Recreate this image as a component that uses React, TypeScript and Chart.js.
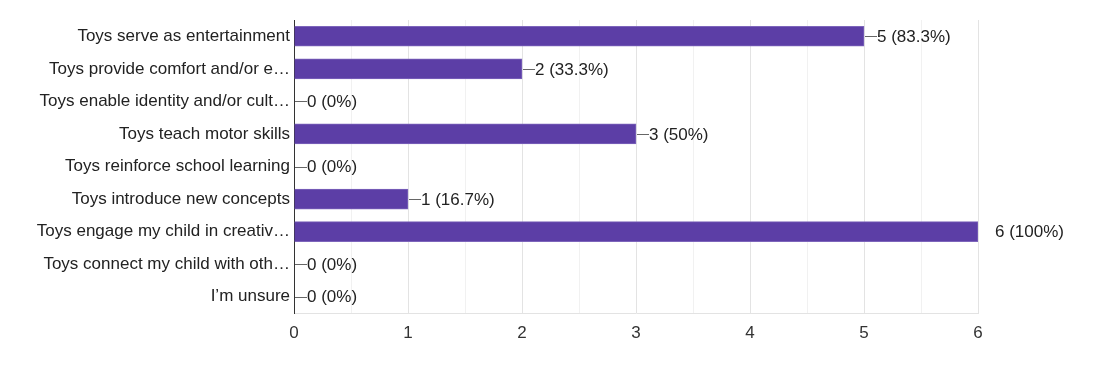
import React, { useEffect, useRef } from "react";
import { Chart, registerables } from "chart.js";

Chart.register(...registerables);

const categories = [
  "Toys serve as entertainment",
  "Toys provide comfort and/or e…",
  "Toys enable identity and/or cult…",
  "Toys teach motor skills",
  "Toys reinforce school learning",
  "Toys introduce new concepts",
  "Toys engage my child in creativ…",
  "Toys connect my child with oth…",
  "I’m unsure",
];
const counts = [5, 2, 0, 3, 0, 1, 6, 0, 0];
const valueLabels = [
  "5 (83.3%)",
  "2 (33.3%)",
  "0 (0%)",
  "3 (50%)",
  "0 (0%)",
  "1 (16.7%)",
  "6 (100%)",
  "0 (0%)",
  "0 (0%)",
];
const xMax = 6;

const FONT = "'Liberation Sans', Arial, sans-serif";

const valueLabelPlugin = {
  id: "valueLabels",
  afterDatasetsDraw(chart: any) {
    const ctx = chart.ctx;
    const meta = chart.getDatasetMeta(0);
    ctx.save();
    ctx.font = `17px ${FONT}`;
    ctx.textBaseline = "middle";
    ctx.textAlign = "left";
    meta.data.forEach((bar: any, i: number) => {
      const x = bar.x;
      const y = bar.y;
      if (counts[i] >= xMax) {
        ctx.fillStyle = "#222";
        ctx.fillText(valueLabels[i], x + 17, y + 1);
        return;
      }
      ctx.strokeStyle = "#666";
      ctx.lineWidth = 1;
      ctx.beginPath();
      ctx.moveTo(x + 1, Math.round(y) + 0.5);
      ctx.lineTo(x + 13, Math.round(y) + 0.5);
      ctx.stroke();
      ctx.fillStyle = "#222";
      ctx.fillText(valueLabels[i], x + 13, y + 1);
    });
    ctx.restore();
  },
};

export default function App() {
  const ref = useRef<HTMLCanvasElement>(null);
  useEffect(() => {
    if (!ref.current) return;
    const chart = new Chart(ref.current, {
      type: "bar",
      data: {
        labels: categories,
        datasets: [
          {
            data: counts,
            backgroundColor: "#5c3ea6",
            borderColor: "#7d65bb",
            borderWidth: { top: 1, bottom: 1, right: 1, left: 0 },
            borderSkipped: "left",
            barThickness: 20,
          },
        ],
      },
      options: {
        indexAxis: "y",
        animation: false,
        responsive: false,
        maintainAspectRatio: false,
        layout: { padding: { top: 20, right: 120, bottom: 0, left: 0 } },
        plugins: {
          legend: { display: false },
          tooltip: { enabled: false },
        },
        scales: {
          x: {
            min: 0,
            max: xMax,
            ticks: {
              stepSize: 0.5,
              autoSkip: false,
              maxRotation: 0,
              padding: 10,
              color: "#333",
              font: { family: FONT, size: 17 },
              callback: (v: any) => (Number.isInteger(v) ? String(v) : ""),
            },
            grid: {
              drawTicks: false,
              color: (c: any) =>
                Number.isInteger(c.tick?.value) ? "#e3e3e3" : "#f1f1f1",
            },
            border: { display: true, color: "#e3e3e3" },
            afterFit: (s: any) => {
              s.height = 65;
            },
          },
          y: {
            ticks: {
              color: "#222",
              padding: 4,
              autoSkip: false,
              font: { family: FONT, size: 17 },
            },
            grid: { display: false, drawTicks: false },
            border: { display: true, color: "#333", width: 1 },
            afterFit: (s: any) => {
              s.width = 294;
            },
          },
        },
      },
      plugins: [valueLabelPlugin],
    });
    return () => chart.destroy();
  }, []);
  return (
    <div style={{ position: "absolute", left: 0, top: 0, width: 1098, height: 378, background: "#fff" }}>
      <canvas ref={ref} width={1098} height={378} style={{ width: 1098, height: 378 }} />
    </div>
  );
}
